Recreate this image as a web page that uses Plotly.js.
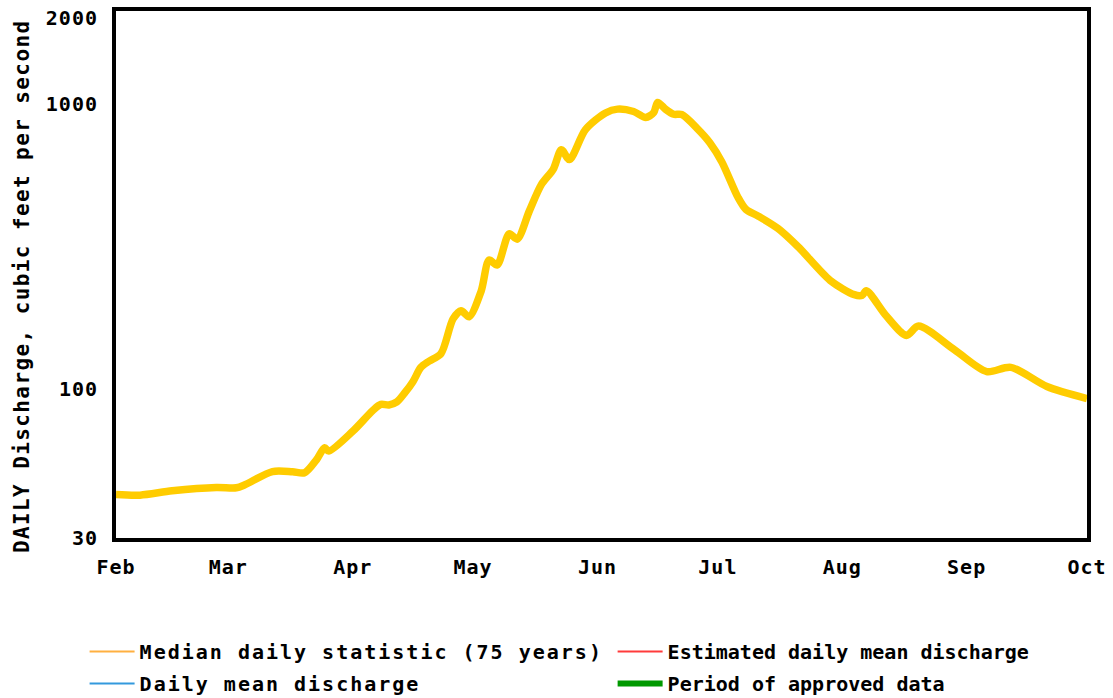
<!DOCTYPE html>
<html>
<head>
<meta charset="utf-8">
<script src="https://cdn.plot.ly/plotly-3.0.1.min.js"></script>
<style>
  html, body { margin: 0; padding: 0; background: #fff; }
  #chart { width: 1113px; height: 698px; }
  .legendtext { letter-spacing: 2px; }
  .annotation-text { letter-spacing: 1.4px; }
  .xtick text, .ytick text { letter-spacing: 1px; }
</style>
</head>
<body>
<div id="chart"></div>
<script>
// Tick labels
const monthLabels = ['Feb', 'Mar', 'Apr', 'May', 'Jun', 'Jul', 'Aug', 'Sep', 'Oct'];
const monthStarts = ['2023-02-01', '2023-03-01', '2023-04-01', '2023-05-01', '2023-06-01',
                     '2023-07-01', '2023-08-01', '2023-09-01', '2023-10-01'];
const yTickVals = [30, 100, 1000, 2000];
const yTickText = ['30', '100', '1000', '2000'];

// Median daily statistic (75 years), cubic feet per second
const medianDates = [
  '2023-02-01', '2023-02-07', '2023-02-15', '2023-02-26', '2023-03-03', '2023-03-05',
  '2023-03-12', '2023-03-17', '2023-03-20', '2023-03-23', '2023-03-25', '2023-03-26',
  '2023-04-01', '2023-04-06', '2023-04-08', '2023-04-10', '2023-04-12', '2023-04-14',
  '2023-04-16', '2023-04-18', '2023-04-20', '2023-04-23', '2023-04-26', '2023-04-28',
  '2023-04-30', '2023-05-03', '2023-05-05', '2023-05-07', '2023-05-10', '2023-05-12',
  '2023-05-15', '2023-05-18', '2023-05-21', '2023-05-23', '2023-05-25', '2023-05-29',
  '2023-06-03', '2023-06-06', '2023-06-10', '2023-06-13', '2023-06-15', '2023-06-16',
  '2023-06-18', '2023-06-20', '2023-06-22', '2023-06-26', '2023-06-29', '2023-07-02',
  '2023-07-06', '2023-07-08', '2023-07-11', '2023-07-16', '2023-07-21', '2023-07-29',
  '2023-08-04', '2023-08-06', '2023-08-07', '2023-08-12', '2023-08-17', '2023-08-20',
  '2023-08-29', '2023-09-06', '2023-09-12', '2023-09-21', '2023-10-01'
];
const medianValues = [
  42.6, 42.4, 43.9, 45.1, 45.0, 46.0,
  51.3, 51.2, 50.8, 56.5, 62.2, 60.5,
  71, 84, 88.2, 87.8, 90, 97,
  106, 119, 125, 133, 176, 188,
  179, 220, 283, 272, 350, 335,
  420, 520, 590, 690, 637, 811,
  928, 957, 939, 895, 930, 1010,
  955, 918, 916, 815, 730, 625,
  470, 426, 404, 365, 315, 240,
  214, 213, 221, 180, 154, 166,
  137, 115, 119, 102, 92.5
];

// Legend entries (left column then right column)
const legendNames = ['Median daily statistic (75 years)', 'Daily mean discharge',
                     'Estimated daily mean discharge', 'Period of approved data'];
const legendColors = ['#FFB040', '#3399DD', '#FF3B3B', '#009900'];
const legendWidths = [2, 2, 2, 6];
const legendIds = ['legend', 'legend', 'legend2', 'legend2'];

const FONT = 'DejaVu Sans Mono, Liberation Mono, monospace';

const traces = [{
  type: 'scatter',
  mode: 'lines',
  x: medianDates,
  y: medianValues,
  line: { color: '#FFCC00', width: 7.5, shape: 'spline', smoothing: 0.8 },
  showlegend: false,
  hoverinfo: 'x+y'
}];
legendNames.forEach((name, i) => {
  traces.push({
    type: 'scatter', mode: 'lines', x: [null], y: [null], name: name,
    legend: legendIds[i], legendgroup: 'g' + i,
    line: { color: legendColors[i], width: legendWidths[i] },
    showlegend: true, hoverinfo: 'skip'
  });
});

const axisCommon = {
  showgrid: false, zeroline: false, showline: true, mirror: true,
  linewidth: 4, linecolor: '#000', ticks: '',
  tickfont: { family: FONT, size: 20, color: '#000', weight: 'bold' }
};

const legendCommon = {
  orientation: 'v', xanchor: 'left', yanchor: 'top', y: -0.1784,
  traceorder: 'grouped', tracegroupgap: 3, itemwidth: 45,
  bgcolor: 'rgba(0,0,0,0)',
  font: { family: FONT, size: 20, color: '#000', weight: 'bold' }
};

const layout = {
  width: 1113, height: 698,
  margin: { l: 116, r: 26, t: 11, b: 160, autoexpand: false },
  paper_bgcolor: '#fff', plot_bgcolor: '#fff',
  font: { family: FONT, color: '#000' },
  xaxis: Object.assign({}, axisCommon, {
    type: 'date', range: ['2023-02-01', '2023-10-01'],
    tickmode: 'array', tickvals: monthStarts, ticktext: monthLabels,
    ticklabelstandoff: 8
  }),
  yaxis: Object.assign({}, axisCommon, {
    type: 'log', range: [Math.log10(30), 3.325],
    tickmode: 'array', tickvals: yTickVals, ticktext: yTickText,
    ticklabelstandoff: 10
  }),
  showlegend: true,
  legend: Object.assign({}, legendCommon, { x: -0.0169 - 15 / 971 }),
  legend2: Object.assign({}, legendCommon, { x: 0.5269 - 15 / 971 }),
  annotations: [{
    xref: 'paper', yref: 'paper', x: -0.0968, y: 0.478,
    xanchor: 'center', yanchor: 'middle', textangle: -90, showarrow: false,
    text: 'DAILY Discharge, cubic feet per second',
    font: { family: FONT, size: 21, color: '#000', weight: 'bold' }
  }]
};

Plotly.newPlot('chart', traces, layout, { displayModeBar: false });
</script>
</body>
</html>
